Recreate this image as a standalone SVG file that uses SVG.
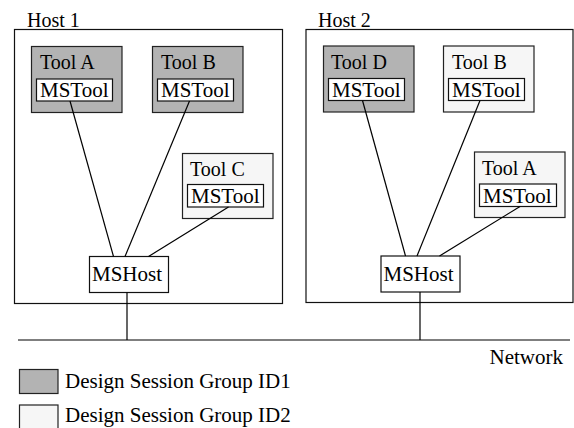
<svg xmlns="http://www.w3.org/2000/svg" width="574" height="428" viewBox="0 0 574 428">
<style>
.lbl{font-size:20px}
.ms{font-size:21px}
.host{fill:#fff;stroke:#111;stroke-width:1.2}
.g1{fill:#b3b3b3;stroke:#222;stroke-width:1.2}
.g2{fill:#f6f6f6;stroke:#222;stroke-width:1.2}
.inner{fill:#fff;stroke:#111;stroke-width:1.2}
.conn line{stroke:#000;stroke-width:1.2}
</style>
<rect width="574" height="428" fill="#fff"/>
<g font-family="'Liberation Serif', 'Times New Roman', Times, 'DejaVu Serif', serif" fill="#000">
<g id="host1">
<rect class="host" x="14.5" y="29.5" width="268" height="274"/>
<text class="lbl" x="27" y="26.5">Host 1</text>
</g>
<g id="host2">
<rect class="host" x="306" y="29.5" width="267" height="273"/>
<text class="lbl" x="318" y="26.5">Host 2</text>
</g>
<g id="h1-toolA">
<rect class="g1" x="31.5" y="46.5" width="90.5" height="66"/>
<text class="lbl" x="40" y="69">Tool A</text>
<rect class="inner" x="36.5" y="79" width="76" height="22"/>
<text class="ms" x="40" y="97">MSTool</text>
</g>
<g id="h1-toolB">
<rect class="g1" x="152.5" y="46.5" width="90.5" height="66"/>
<text class="lbl" x="161" y="69">Tool B</text>
<rect class="inner" x="157.5" y="79" width="76" height="22"/>
<text class="ms" x="161" y="97">MSTool</text>
</g>
<g id="h1-toolC">
<rect class="g2" x="182.5" y="153.5" width="90.5" height="65"/>
<text class="lbl" x="190" y="176">Tool C</text>
<rect class="inner" x="187.5" y="184.5" width="76" height="22.5"/>
<text class="ms" x="191" y="203">MSTool</text>
</g>
<g id="h1-mshost">
<rect class="inner" x="89.5" y="256.5" width="79" height="36"/>
<text class="ms" x="92" y="281">MSHost</text>
</g>
<g id="h2-toolD">
<rect class="g1" x="323.5" y="46" width="90.5" height="66"/>
<text class="lbl" x="331" y="69">Tool D</text>
<rect class="inner" x="328.5" y="78.5" width="76" height="22"/>
<text class="ms" x="332" y="96.5">MSTool</text>
</g>
<g id="h2-toolB">
<rect class="g2" x="443.5" y="46" width="90.5" height="66"/>
<text class="lbl" x="452" y="69">Tool B</text>
<rect class="inner" x="448.5" y="78.5" width="76" height="22"/>
<text class="ms" x="452" y="96.5">MSTool</text>
</g>
<g id="h2-toolA">
<rect class="g2" x="474.5" y="152" width="90.5" height="65.5"/>
<text class="lbl" x="482" y="175">Tool A</text>
<rect class="inner" x="479.5" y="184" width="77" height="22.5"/>
<text class="ms" x="483" y="202.5">MSTool</text>
</g>
<g id="h2-mshost">
<rect class="inner" x="381" y="256" width="79" height="36"/>
<text class="ms" x="383.5" y="280.5">MSHost</text>
</g>
<g id="network">
<text class="ms" x="489.5" y="364">Network</text>
</g>
<g id="legend">
<rect class="g1" x="19.5" y="369.5" width="38.5" height="24"/>
<text class="ms" x="65" y="387.5">Design Session Group ID1</text>
<rect class="g2" x="19.5" y="405" width="38.5" height="24"/>
<text class="ms" x="65" y="421.5">Design Session Group ID2</text>
</g>
</g>
<g class="conn" id="connectors">
<line x1="70" y1="101" x2="113.5" y2="256.5"/>
<line x1="189.5" y1="101" x2="125" y2="256.5"/>
<line x1="228.5" y1="207" x2="148.5" y2="256.5"/>
<line x1="362.5" y1="100.5" x2="405.5" y2="256"/>
<line x1="480" y1="100.5" x2="417" y2="256"/>
<line x1="520" y1="206.5" x2="439.5" y2="256"/>
<line x1="127" y1="292.5" x2="127" y2="340"/>
<line x1="420" y1="292" x2="420" y2="340"/>
<line x1="18" y1="340" x2="570" y2="340"/>
</g>
</svg>
